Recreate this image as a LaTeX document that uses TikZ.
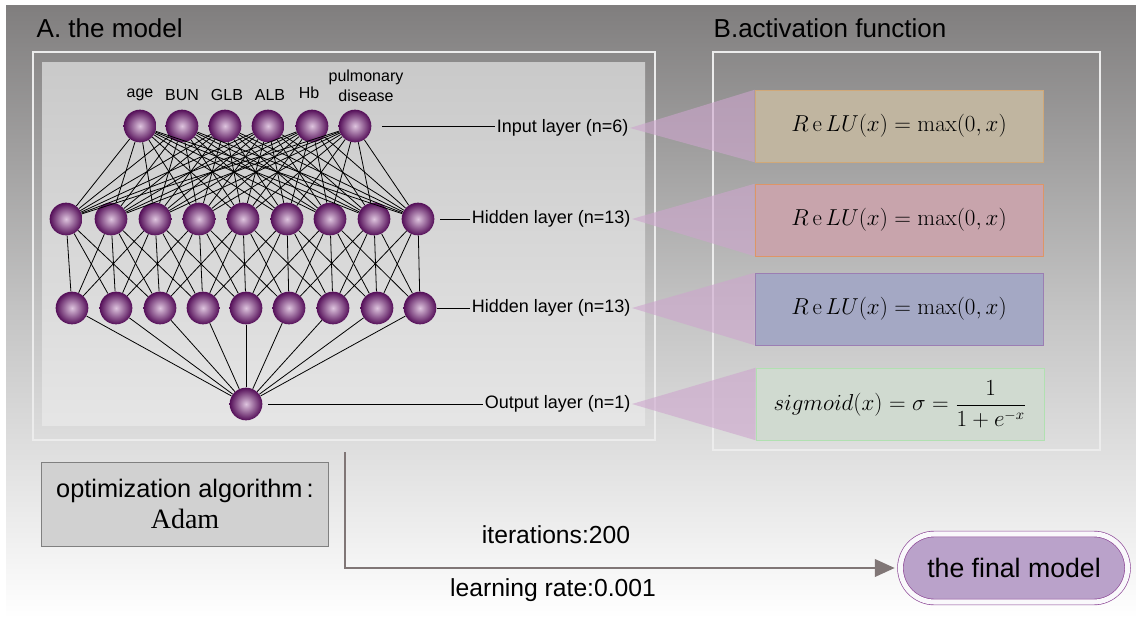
\documentclass[tikz,border=0pt]{standalone}
\usepackage[no-math]{fontspec}
\setmainfont{Liberation Sans}
\newfontfamily\adamfont{Liberation Serif}
\usetikzlibrary{arrows.meta,shapes.misc}
\definecolor{bgtop}{RGB}{128,126,126}
\definecolor{bgmid}{RGB}{196,196,196}
\definecolor{neuronin}{RGB}{222,196,222}
\definecolor{neuronout}{RGB}{84,14,88}
\definecolor{fanpink}{RGB}{205,165,205}
\definecolor{tanbox}{RGB}{192,181,160}
\definecolor{rosebox}{RGB}{200,164,172}
\definecolor{bluebox}{RGB}{164,168,196}
\definecolor{greenbox}{RGB}{208,218,208}
\definecolor{arrowgray}{RGB}{128,118,118}
\definecolor{finalfill}{RGB}{186,162,202}
\definecolor{finalring}{RGB}{140,70,150}
\begin{document}
\begin{tikzpicture}[x=0.75pt,y=-0.75pt,
	neuron/.style={circle,minimum size=24.5pt,inner sep=0pt,shading=radial,
		inner color=neuronin,outer color=neuronout},
	link/.style={line width=0.6pt},
	layerlabel/.style={font=\fontsize{13.5}{15}\selectfont,inner sep=1pt},
	fbox/.style={minimum width=216pt,minimum height=54pt,inner sep=0pt,
		font=\fontsize{16}{18}\selectfont},
	fan/.style={fill=fanpink,fill opacity=0.6}]
	\useasboundingbox (0,0) rectangle (1136,618);
	% background
	\fill[white] (0,0) rectangle (1136,618);
	\shade[top color=bgtop,bottom color=white,middle color=bgmid] (6,5) rectangle (1136,618);
	% panel A
	\draw[white!85!gray,line width=0.8pt] (33,52) rectangle (655,440);
	\shade[top color=black!21,bottom color=black!10] (42,62) rectangle (645,425);
	% panel B
	\draw[white!85!gray,line width=0.8pt] (713,52) rectangle (1100,450);
	\node[anchor=west,font=\fontsize{19.5}{22}\selectfont] (titleA) at (32,28) {A. the model};
	\node[anchor=west,font=\fontsize{19.5}{22}\selectfont] (titleB) at (709,28) {B.activation function};
	% neurons
	\foreach \x [count=\i] in {140,182,225,268,312,355}
		\node[neuron] (i\i) at (\x,126) {};
	\foreach \x [count=\i] in {66,111,155,199,243,287,330,374,418}
		\node[neuron] (h\i) at (\x,219) {};
	\foreach \x [count=\i] in {72,116,160,203,246,289,333,377,420}
		\node[neuron] (g\i) at (\x,308) {};
	\node[neuron] (o) at (246,404) {};
	% links
	\foreach \i in {1,...,6}
		\foreach \j in {1,...,9}
			\draw[link] (i\i) -- (h\j);
	\foreach \i in {1,...,9}
		\foreach \j in {1,...,9}{
			\pgfmathtruncatemacro{\d}{abs(\i-\j)}
			\ifnum\d<3 \draw[link] (h\i) -- (g\j);\fi
		}
	\foreach \j in {1,...,9}
		\draw[link] (g\j) -- (o);
	% input names
	\begin{scope}[every node/.style={font=\fontsize{12}{14}\selectfont,inner sep=0pt}]
		\node (nage) at (140,95) {age};
		\node (nbun) at (182,95) {BUN};
		\node (nglb) at (227,95) {GLB};
		\node (nalb) at (270,95) {ALB};
		\node (nhb) at (309,93) {Hb};
		\node[align=center,font=\fontsize{12}{15}\selectfont] (npd) at (366,86) {pulmonary\\disease};
	\end{scope}
	% layer labels
	\node[layerlabel,anchor=east] (lin) at (630,128) {Input layer (n=6)};
	\node[layerlabel,anchor=east] (lh1) at (632,219) {Hidden layer (n=13)};
	\node[layerlabel,anchor=east] (lh2) at (632,308) {Hidden layer (n=13)};
	\node[layerlabel,anchor=east] (lout) at (632,404) {Output layer (n=1)};
	\draw[link] (i6) ++(27,0) coordinate (cin) -- (lin.west |- cin);
	\draw[link] (h9) ++(22,0) coordinate (ch1) -- (lh1.west |- ch1);
	\draw[link] (g9) ++(17,0) coordinate (ch2) -- (lh2.west |- ch2);
	\draw[link] (o) ++(22,0) coordinate (cout) -- (lout.west |- cout);
	% activation boxes
	\node[fbox,fill=tanbox,draw=orange!25!tanbox] (f1) at (899,126)
		{$R\,\mathrm{e}\,LU(x)=\max(0,x)$};
	\node[fbox,fill=rosebox,draw=orange!40!rosebox] (f2) at (899,220)
		{$R\,\mathrm{e}\,LU(x)=\max(0,x)$};
	\node[fbox,fill=bluebox,draw=violet!25!bluebox] (f3) at (899,309)
		{$R\,\mathrm{e}\,LU(x)=\max(0,x)$};
	\node[fbox,fill=greenbox,draw=green!15!greenbox] (f4) at (900,404)
		{$\displaystyle sigmoid(x)=\sigma=\frac{1}{1+e^{-x}}$};
	\fill[fan] (lin.east) -- (f1.north west) -- (f1.south west) -- cycle;
	\fill[fan] (lh1.east) -- (f2.north west) -- (f2.south west) -- cycle;
	\fill[fan] (lh2.east) -- (f3.north west) -- (f3.south west) -- cycle;
	\fill[fan] (lout.east) -- (f4.north west) -- (f4.south west) -- cycle;
	% optimizer
	\node[draw=gray,fill=black!18,minimum width=215pt,minimum height=63pt,align=center,
		font=\fontsize{19}{23}\selectfont] (opt) at (185,504)
		{optimization algorithm\,:\\{\adamfont\fontsize{21}{23}\selectfont Adam}};
	% final model
	\node[rounded rectangle,fill=finalfill,draw=finalring,line width=0.5pt,
		double=white!92!finalfill,double distance=3.8pt,minimum width=177pt,minimum height=51pt,
		font=\fontsize{20}{23}\selectfont] (final) at (1014,568) {the final model};
	\coordinate (start) at (345,452);
	\draw[arrowgray,line width=2.2pt,-{Triangle[length=15pt,width=13pt]}]
		(start) |- ([xshift=-4pt]final.west);
	\node[font=\fontsize{18.5}{21}\selectfont] (iter) at (556,535) {iterations:200};
	\node[font=\fontsize{18.5}{21}\selectfont] (lrate) at (553,590) {learning rate:0.001};
\end{tikzpicture}
\end{document}
